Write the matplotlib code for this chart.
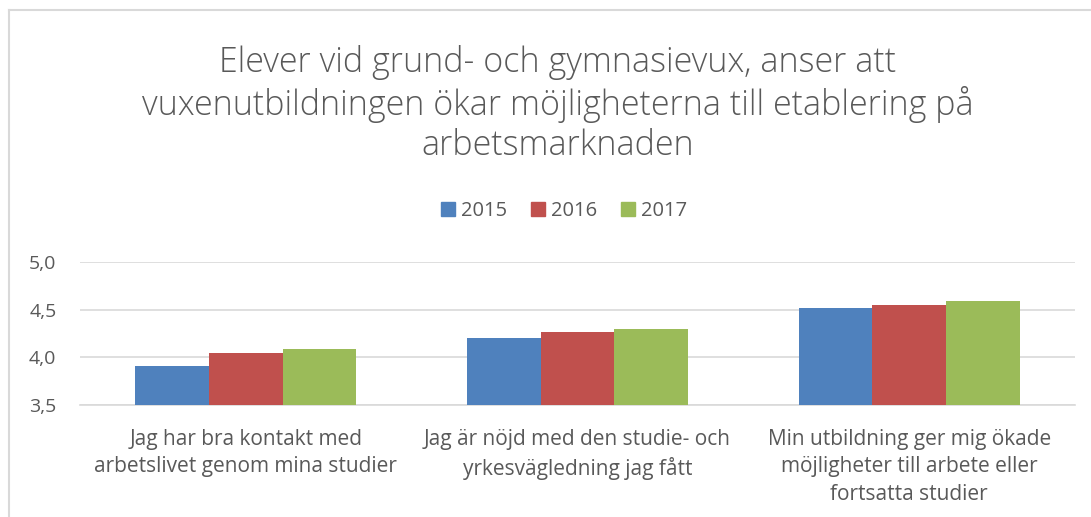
import matplotlib
matplotlib.use("Agg")
import matplotlib.pyplot as plt
from matplotlib.lines import Line2D
import numpy as np

categories = [
    "Jag har bra kontakt med\narbetslivet genom mina studier",
    "Jag är nöjd med den studie- och\nyrkesvägledning jag fått",
    "Min utbildning ger mig ökade\nmöjligheter till arbete eller\nfortsatta studier",
]
series_names = ["2015", "2016", "2017"]
values_2015 = [3.91, 4.20, 4.52]
values_2016 = [4.05, 4.27, 4.55]
values_2017 = [4.09, 4.30, 4.59]
yticks = [3.5, 4.0, 4.5, 5.0]
ytick_labels = ["3,5", "4,0", "4,5", "5,0"]
title = "Elever vid grund- och gymnasievux, anser att\nvuxenutbildningen ökar möjligheterna till etablering på\narbetsmarknaden"

colors = ["#4F81BD", "#C0504D", "#9BBB59"]
text_color = "#595959"

plt.rcParams['font.family'] = ['Open Sans', 'DejaVu Sans']

W, H = 1091, 517
fig = plt.figure(figsize=(W / 100, H / 100), dpi=100)
ax = fig.add_axes([80 / W, 1 - 405 / H, (1075 - 80) / W, (405 - 262) / H])

x = np.arange(len(categories))
bw = 0.222
for i, (vals, name) in enumerate(zip([values_2015, values_2016, values_2017], series_names)):
    ax.bar(x + (i - 1) * bw, vals, width=bw, color=colors[i], label=name, zorder=3)

ax.set_ylim(3.5, 5.0)
ax.set_xlim(-0.5, 2.5)
ax.set_yticks(yticks)
ax.set_yticklabels(ytick_labels)
ax.yaxis.grid(True, color="#d9d9d9", linewidth=1.2, zorder=0)
ax.set_axisbelow(True)
for s in ["top", "right", "left"]:
    ax.spines[s].set_visible(False)
ax.spines["bottom"].set_color("#d9d9d9")
ax.spines["bottom"].set_linewidth(1.2)
ax.tick_params(axis="y", length=0, pad=17, labelsize=14, labelcolor=text_color)
ax.tick_params(axis="x", length=0, pad=17, labelsize=15, labelcolor=text_color)
ax.set_xticks(x)
ax.set_xticklabels(categories, linespacing=1.42, va="top")

fig.text(558 / W, 1 - 104 / H, title, ha="center", va="center", fontsize=24.5,
         color=text_color, linespacing=1.2, fontweight="light")

handles = [Line2D([0], [0], marker="s", linestyle="none", markersize=10,
                  markerfacecolor=c, markeredgecolor=c) for c in colors]
fig.legend(handles, series_names, loc="center", bbox_to_anchor=(561 / W, 1 - 211 / H),
           ncol=3, frameon=False, fontsize=14.5, handletextpad=0.0, columnspacing=0.9,
           handlelength=1.3, labelcolor=text_color)

# chart border (left and top visible)
fig.add_artist(Line2D([9 / W, 9 / W], [0, 1 - 10 / H], color="#d9d9d9", linewidth=1.5,
                      transform=fig.transFigure))
fig.add_artist(Line2D([9 / W, 1], [1 - 10 / H, 1 - 10 / H], color="#d9d9d9", linewidth=1.5,
                      transform=fig.transFigure))

fig.savefig("out.png", dpi=100, facecolor="white")
